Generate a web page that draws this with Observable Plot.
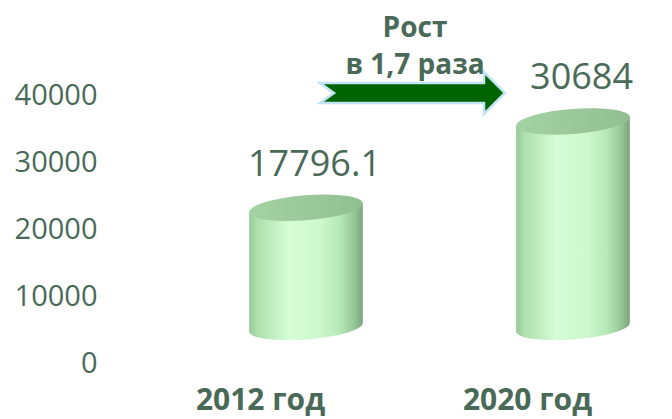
<!DOCTYPE html>
<html><head><meta charset="utf-8">
<script src="https://cdn.jsdelivr.net/npm/d3@7"></script>
<script src="https://cdn.jsdelivr.net/npm/@observablehq/plot@0.6"></script>
<style>body{margin:0;background:#fff}</style>
</head><body><div id="chart"></div>
<script>
const years = ["2012 год", "2020 год"];
const values = [17796.1, 30684];
const valueLabels = ["17796.1", "30684"];
const yTicks = [0, 10000, 20000, 30000, 40000];

const data = years.map((year, i) => ({year, value: values[i], label: valueLabels[i]}));
const ratio = (values[1] / values[0]).toFixed(1).replace(".", ",");
const growthText = `Рост\nв ${ratio} раза`;

const textColor = "#4a6a58";
const DEPTH_DY = -36;

function cylinders(index, scales) {
  const g = d3.create("svg:g");
  const defs = g.append("defs");
  const body = defs.append("linearGradient").attr("id", "cylBody")
    .attr("x1", 0).attr("x2", 1).attr("y1", 0).attr("y2", 0);
  [[0, "#98c898"], [0.07, "#ade0ad"], [0.35, "#d6fdd6"], [0.62, "#cdf8cd"], [0.8, "#b6e8b6"], [0.93, "#94c494"], [1, "#7ba37b"]]
    .forEach(([o, c]) => body.append("stop").attr("offset", o).attr("stop-color", c));
  const top = defs.append("linearGradient").attr("id", "cylTop")
    .attr("x1", 0).attr("x2", 1).attr("y1", 0).attr("y2", 0);
  [[0, "#a3d2a3"], [1, "#92bf92"]]
    .forEach(([o, c]) => top.append("stop").attr("offset", o).attr("stop-color", c));
  const bw = typeof scales.x.bandwidth === "function" ? scales.x.bandwidth() : 114;
  const a = bw / 2, b = 12.5, rot = -4.5, t = rot * Math.PI / 180;
  const ca = a * Math.cos(t), sa = a * Math.sin(t);
  data.forEach(d => {
    const cx = scales.x(d.year) + a;
    const yt = scales.y(d.value) + DEPTH_DY;
    const yb = scales.y(0) + DEPTH_DY;
    const p = `M${cx - ca},${yt - sa} L${cx - ca},${yb - sa} A${a},${b} ${rot} 0 0 ${cx + ca},${yb + sa} L${cx + ca},${yt + sa} Z`;
    g.append("path").attr("d", p).attr("fill", "url(#cylBody)");
    g.append("ellipse").attr("cx", cx).attr("cy", yt).attr("rx", a).attr("ry", b)
      .attr("transform", `rotate(${rot} ${cx} ${yt})`).attr("fill", "url(#cylTop)");
  });
  return g.node();
}

function growthArrow(index, scales) {
  const bw = typeof scales.x.bandwidth === "function" ? scales.x.bandwidth() : 114;
  const x1 = scales.x(years[0]) + bw / 2 + 14;
  const x2 = scales.x(years[1]) + bw / 2 - 68;
  const yc = scales.y(yTicks[yTicks.length - 1]) - 2;
  const xh = x2 - 21, sh = 10, hh = 21, notch = 14;
  const pts = [[x1, yc - sh], [xh, yc - sh], [xh, yc - hh], [x2, yc], [xh, yc + hh], [xh, yc + sh], [x1, yc + sh], [x1 + notch, yc]];
  const g = d3.create("svg:g");
  g.append("polygon").attr("points", pts.map(p => p.join(",")).join(" "))
    .attr("fill", "#006400").attr("stroke", "#c4e4f6").attr("stroke-width", 2.5).attr("stroke-linejoin", "miter");
  return g.node();
}

const chart = Plot.plot({
  width: 672,
  height: 419,
  marginTop: 95,
  marginBottom: 56,
  marginLeft: 125,
  marginRight: 0,
  style: {fontFamily: "'Open Sans', sans-serif", background: "white", overflow: "visible"},
  x: {type: "band", domain: years, range: [172.5, 706.5], paddingInner: 0.573, paddingOuter: 0.2865, axis: null},
  y: {domain: [0, 40000], axis: null},
  marks: [
    Plot.axisY(yTicks, {tickSize: 0, tickPadding: 28, fontSize: 29, color: textColor, tickFormat: d => String(d), label: null}),
    Plot.axisX({tickSize: 0, tickPadding: 25, fontSize: 30, fontWeight: "bold", color: textColor, dx: -46, label: null}),
    cylinders,
    Plot.text(data, {x: "year", y: "value", text: "label", dx: 8, dy: -80, fontSize: 36, fill: textColor}),
    growthArrow,
    Plot.text([growthText], {frameAnchor: "top", text: d => d, dx: 16, dy: -84, lineAnchor: "top", fontSize: 28, fontWeight: "bold", fill: textColor, lineHeight: 1.3})
  ]
});
document.getElementById("chart").append(chart);
</script>
</body></html>
